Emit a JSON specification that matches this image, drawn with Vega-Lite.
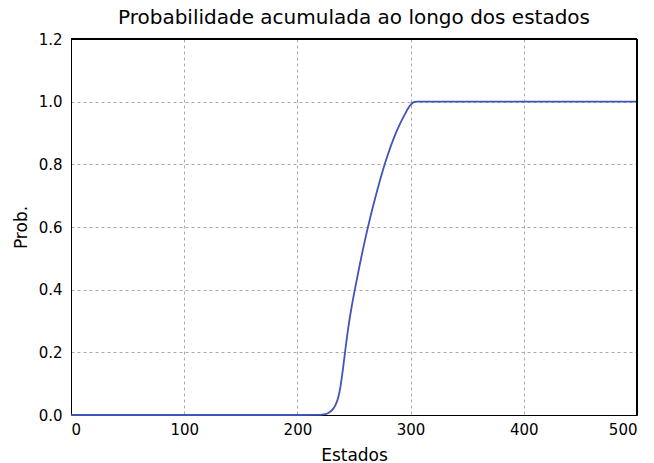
{
  "$schema": "https://vega.github.io/schema/vega-lite/v6.json",
  "autosize": "none",
  "width": 566,
  "height": 376,
  "padding": {"left": 71, "top": 39, "right": 17, "bottom": 48},
  "background": "white",
  "title": {"text": "Probabilidade acumulada ao longo dos estados", "font": "DejaVu Sans", "fontSize": 20, "fontWeight": "normal", "color": "#000000", "offset": 4},
  "data": {"values": [
    {"x": 0, "y": 0}, {"x": 100, "y": 0}, {"x": 200, "y": 0}, {"x": 218, "y": 0.0005},
    {"x": 222, "y": 0.0015}, {"x": 225, "y": 0.003}, {"x": 228, "y": 0.008}, {"x": 231, "y": 0.017},
    {"x": 234, "y": 0.035}, {"x": 236, "y": 0.055}, {"x": 238, "y": 0.09}, {"x": 240, "y": 0.14},
    {"x": 242, "y": 0.198}, {"x": 245, "y": 0.28}, {"x": 248, "y": 0.347}, {"x": 251, "y": 0.405},
    {"x": 255, "y": 0.478}, {"x": 260, "y": 0.563}, {"x": 265, "y": 0.64}, {"x": 270, "y": 0.71},
    {"x": 275, "y": 0.775}, {"x": 280, "y": 0.832}, {"x": 285, "y": 0.882}, {"x": 290, "y": 0.924},
    {"x": 295, "y": 0.96}, {"x": 298, "y": 0.98}, {"x": 300, "y": 0.99}, {"x": 302, "y": 0.997},
    {"x": 305, "y": 1.0}, {"x": 310, "y": 1.0}, {"x": 400, "y": 1.0}, {"x": 500, "y": 1.0}
  ]},
  "layer": [
    {
      "mark": {"type": "line", "color": "#4055b5", "strokeWidth": 1.8, "interpolate": "monotone"},
      "encoding": {
        "x": {"field": "x", "type": "quantitative", "scale": {"domain": [0, 500], "nice": false},
          "axis": {"title": "Estados", "values": [0, 100, 200, 300, 400, 500], "format": "d"}},
        "y": {"field": "y", "type": "quantitative", "scale": {"domain": [0, 1.2], "nice": false},
          "axis": {"title": "Prob.", "values": [0, 0.2, 0.4, 0.6, 0.8, 1.0, 1.2], "format": ".1f"}}
      }
    },
    {
      "mark": {"type": "rule", "color": "#000000", "strokeWidth": 1},
      "encoding": {
        "y": {"datum": 1.2, "type": "quantitative"}
      }
    },
    {
      "mark": {"type": "rule", "color": "#000000", "strokeWidth": 1},
      "encoding": {
        "x": {"datum": 500, "type": "quantitative"}
      }
    }
  ],
  "config": {
    "view": {"stroke": "#000000", "strokeWidth": 1},
    "axis": {
      "labelFont": "DejaVu Sans", "labelFontSize": 15, "labelColor": "#000000",
      "titleFont": "DejaVu Sans", "titleFontSize": 17, "titleFontWeight": "normal", "titleColor": "#000000",
      "domainColor": "#000000", "domainWidth": 1,
      "ticks": false, "gridColor": "#aaaaaa", "gridDash": [3, 3], "gridWidth": 1, "gridOpacity": 1
    },
    "axisX": {"labelPadding": 7, "titlePadding": 10},
    "axisY": {"labelPadding": 9, "titlePadding": 8}
  }
}
